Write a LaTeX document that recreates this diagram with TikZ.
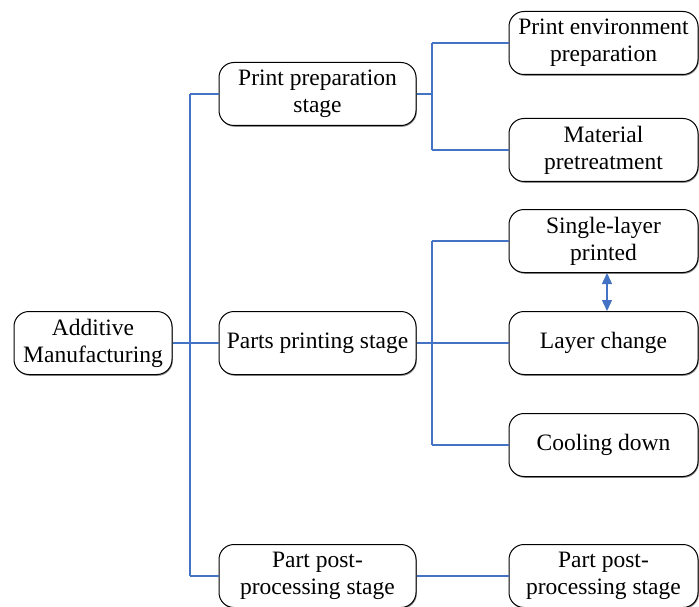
\documentclass[tikz,border=0pt]{standalone}
\usepackage{fontspec}
\setmainfont{Liberation Serif}
\newfontfamily\tnrfont{Liberation Serif}
\usetikzlibrary{arrows.meta,shadows}
\definecolor{lineblue}{RGB}{68,114,196}
\begin{document}
\begin{tikzpicture}[x=1pt,y=-1pt,
  box/.style={draw=black, line width=1pt, rounded corners=15pt, fill=white,
    align=center, inner sep=0pt, minimum height=63pt,
    font=\tnrfont\fontsize{23.5}{27}\selectfont,
    drop shadow={shadow xshift=0.8pt, shadow yshift=-1.3pt, fill=black!45, opacity=1}},
  leftbox/.style={box, minimum width=158pt},
  midbox/.style={box, minimum width=197pt},
  rightbox/.style={box, minimum width=189pt},
  link/.style={draw=lineblue, line width=1.3pt},
  tip/.style={{Triangle[width=10pt,length=11pt]}-{Triangle[width=10pt,length=11pt]}}
]
\useasboundingbox (0,0) rectangle (699,607);

\node[leftbox] (am) at (93,343) {Additive\\Manufacturing};
\node[midbox] (pp) at (317.5,94) {Print preparation\\stage};
\node[midbox] (pps) at (317.5,343) {Parts printing stage};
\node[midbox] (post) at (317.5,576) {Part post-\\processing stage};

\node[rightbox] (pe) at (603.5,43) {Print environment\\preparation};
\node[rightbox] (mp) at (603.5,150) {Material\\pretreatment};
\node[rightbox] (sl) at (603.5,241) {Single-layer\\printed};
\node[rightbox] (lc) at (603.5,343) {Layer change};
\node[rightbox] (cd) at (603.5,445) {Cooling down};
\node[rightbox] (post2) at (603.5,576) {Part post-\\processing stage};

\coordinate (j1) at (190,342);
\coordinate (j2) at (432,93);
\coordinate (j3) at (432,342);

% level 1
\draw[link] (am.east) -- (am.east -| j1);
\draw[link] (j1 |- pp.west) -- (j1 |- post.west);
\draw[link] (j1 |- pp.west) -- (pp.west);
\draw[link] (j1 |- pps.west) -- (pps.west);
\draw[link] (j1 |- post.west) -- (post.west);

% print preparation
\draw[link] (pp.east) -- (pp.east -| j2);
\draw[link] (j2 |- pe.west) -- (j2 |- mp.west);
\draw[link] (j2 |- pe.west) -- (pe.west);
\draw[link] (j2 |- mp.west) -- (mp.west);

% parts printing
\draw[link] (pps.east) -- (lc.west);
\draw[link] (j3 |- sl.west) -- (j3 |- cd.west);
\draw[link] (j3 |- sl.west) -- (sl.west);
\draw[link] (j3 |- cd.west) -- (cd.west);

% post processing
\draw[link] (post.east) -- (post2.west);

% loop arrow
\draw[link, tip] ([xshift=3.5pt]sl.south) -- ([xshift=3.5pt]lc.north);
\end{tikzpicture}
\end{document}
